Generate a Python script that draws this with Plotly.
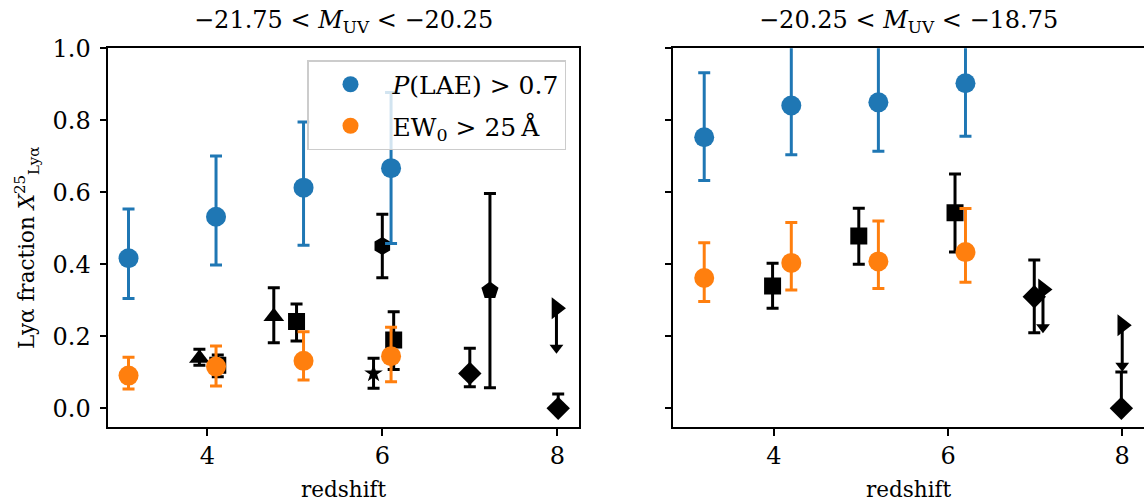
import plotly.graph_objects as go

# ---------------- data ----------------
# Left panel: -21.75 < M_UV < -20.25
blue_x_L = [3.1, 4.1, 5.1, 6.1]
blue_y_L = [0.417, 0.532, 0.613, 0.667]
blue_hi_L = [0.554, 0.701, 0.795, 0.877]
blue_lo_L = [0.305, 0.398, 0.453, 0.458]

orange_x_L = [3.1, 4.1, 5.1, 6.1]
orange_y_L = [0.091, 0.116, 0.132, 0.145]
orange_hi_L = [0.142, 0.173, 0.213, 0.225]
orange_lo_L = [0.054, 0.062, 0.079, 0.074]

# literature points (left)
tri_x_L = [3.91, 4.76]
tri_y_L = [0.139, 0.255]
tri_hi_L = [0.164, 0.335]
tri_lo_L = [0.120, 0.182]

sq_x_L = [4.12, 5.02, 6.13]
sq_y_L = [0.120, 0.241, 0.190]
sq_hi_L = [0.148, 0.290, 0.268]
sq_lo_L = [0.088, 0.187, 0.108]

hex_x_L = [6.0]
hex_y_L = [0.451]
hex_hi_L = [0.539]
hex_lo_L = [0.363]

star_x_L = [5.9]
star_y_L = [0.097]
star_hi_L = [0.139]
star_lo_L = [0.056]

dia_x_L = [7.0, 8.01]
dia_y_L = [0.097, 0.0]
dia_hi_L = [0.167, 0.040]
dia_lo_L = [0.060, 0.0]

pent_x_L = [7.23]
pent_y_L = [0.327]
pent_hi_L = [0.597]
pent_lo_L = [0.057]

ul_x_L = [7.99]
ul_y_L = [0.278]
ul_len_L = [0.11]

# Right panel: -20.25 < M_UV < -18.75
blue_x_R = [3.2, 4.2, 5.2, 6.2]
blue_y_R = [0.753, 0.841, 0.850, 0.903]
blue_hi_R = [0.932, 1.01, 1.02, 1.05]
blue_lo_R = [0.633, 0.704, 0.714, 0.756]

orange_x_R = [3.2, 4.2, 5.2, 6.2]
orange_y_R = [0.362, 0.404, 0.408, 0.434]
orange_hi_R = [0.460, 0.516, 0.520, 0.555]
orange_lo_R = [0.297, 0.329, 0.333, 0.350]

sq_x_R = [3.985, 4.975, 6.08]
sq_y_R = [0.340, 0.479, 0.543]
sq_hi_R = [0.403, 0.556, 0.651]
sq_lo_R = [0.278, 0.400, 0.434]

dia_x_R = [6.99, 7.99]
dia_y_R = [0.310, 0.0]
dia_hi_R = [0.412, 0.101]
dia_lo_R = [0.210, 0.0]

ul_x_R = [7.09, 8.0]
ul_y_R = [0.330, 0.231]
ul_len_R = [0.105, 0.113]

titles = ["\u221221.75 < <i>M</i><sub>UV</sub> < \u221220.25",
          "\u221220.25 < <i>M</i><sub>UV</sub> < \u221218.75"]
legend_names = ["<i>P</i>(LAE) > 0.7", "EW<sub>0</sub> > 25\u2009\u00c5"]
xlabel = "redshift"
ylabel = "Ly\u03b1 fraction <i>X</i><sup>25</sup><sub>Ly\u03b1</sub>"
yticks = [0.0, 0.2, 0.4, 0.6, 0.8, 1.0]
xticks = [4, 6, 8]

BLUE = "#1f77b4"
ORANGE = "#ff7f0e"
FONT = "DejaVu Serif"

fig = go.Figure()


def errpoints(x, y, hi, lo, color, symbol, size, xa, ya, name=None, show=False, group=None):
    fig.add_trace(go.Scatter(
        x=x, y=y, mode="markers", name=name or "", showlegend=show,
        legendgroup=group, xaxis=xa, yaxis=ya,
        marker=dict(color=color, symbol=symbol, size=size, line=dict(width=0)),
        error_y=dict(type="data", symmetric=False,
                     array=[h - v for h, v in zip(hi, y)],
                     arrayminus=[v - l for v, l in zip(y, lo)],
                     color=color, thickness=3, width=6),
    ))


def upperlim(x, y, ln, xa, ya):
    fig.add_trace(go.Scatter(
        x=x, y=y, mode="markers", showlegend=False, xaxis=xa, yaxis=ya,
        marker=dict(color="black", symbol="triangle-right", size=19, line=dict(width=0)),
        error_y=dict(type="data", symmetric=False, array=[0] * len(y),
                     arrayminus=ln, color="black", thickness=3, width=0),
    ))
    fig.add_trace(go.Scatter(
        x=x, y=[v - l for v, l in zip(y, ln)], mode="markers", showlegend=False,
        xaxis=xa, yaxis=ya,
        marker=dict(color="black", symbol="triangle-down", size=12, line=dict(width=0)),
    ))


# left panel
errpoints(tri_x_L, tri_y_L, tri_hi_L, tri_lo_L, "black", "triangle-up", 18, "x", "y")
errpoints(sq_x_L, sq_y_L, sq_hi_L, sq_lo_L, "black", "square", 17, "x", "y")
errpoints(hex_x_L, hex_y_L, hex_hi_L, hex_lo_L, "black", "hexagon", 18, "x", "y")
errpoints(star_x_L, star_y_L, star_hi_L, star_lo_L, "black", "star", 14, "x", "y")
errpoints(dia_x_L, dia_y_L, dia_hi_L, dia_lo_L, "black", "diamond", 18, "x", "y")
errpoints(pent_x_L, pent_y_L, pent_hi_L, pent_lo_L, "black", "pentagon", 18, "x", "y")
upperlim(ul_x_L, ul_y_L, ul_len_L, "x", "y")
errpoints(blue_x_L, blue_y_L, blue_hi_L, blue_lo_L, BLUE, "circle", 20, "x", "y",
          legend_names[0], True, "g1")
errpoints(orange_x_L, orange_y_L, orange_hi_L, orange_lo_L, ORANGE, "circle", 20, "x", "y",
          legend_names[1], True, "g2")

# right panel
errpoints(sq_x_R, sq_y_R, sq_hi_R, sq_lo_R, "black", "square", 17, "x2", "y2")
errpoints(dia_x_R, dia_y_R, dia_hi_R, dia_lo_R, "black", "diamond", 18, "x2", "y2")
upperlim(ul_x_R, ul_y_R, ul_len_R, "x2", "y2")
errpoints(blue_x_R, blue_y_R, blue_hi_R, blue_lo_R, BLUE, "circle", 20, "x2", "y2")
errpoints(orange_x_R, orange_y_R, orange_hi_R, orange_lo_R, ORANGE, "circle", 20, "x2", "y2")

W, H = 1144, 502
axis_common = dict(showline=True, linecolor="black", linewidth=1.6, mirror=True,
                   ticks="outside", ticklen=7, tickwidth=1.6, tickcolor="black",
                   showgrid=False, zeroline=False,
                   tickfont=dict(family=FONT, size=24, color="black"))

fig.update_layout(
    width=W, height=H,
    margin=dict(l=0, r=0, t=0, b=0, autoexpand=False),
    plot_bgcolor="white", paper_bgcolor="white",
    font=dict(family=FONT, color="black"),
    xaxis=dict(domain=[108.3 / W, 579.3 / W], range=[2.869, 8.251],
               tickvals=xticks, ticktext=[str(t) for t in xticks], **axis_common),
    xaxis2=dict(domain=[673.3 / W, 1.0], range=[2.845, 8.25],
                tickvals=xticks, ticktext=[str(t) for t in xticks], **axis_common),
    yaxis=dict(domain=[1 - 426.7 / H, 1 - 48.3 / H], range=[-0.051, 1.0],
               tickvals=yticks, ticktext=[f"{t:.1f}" for t in yticks],
               ticklabelstandoff=4, anchor="x", **axis_common),
    yaxis2=dict(domain=[1 - 426.7 / H, 1 - 48.3 / H], range=[-0.051, 1.0],
                tickvals=yticks, showticklabels=False, anchor="x2", **axis_common),
    legend=dict(x=566 / W, y=1 - 60 / H, xanchor="right", yanchor="top",
                bgcolor="rgba(255,255,255,0.8)", bordercolor="#cccccc", borderwidth=1.5,
                font=dict(family=FONT, size=25, color="black"), itemwidth=74,
                tracegroupgap=6),
    showlegend=True,
)

annotations = [
    dict(text=titles[0], x=(108.3 + 579.3) / 2 / W, y=1 - 22 / H, xref="paper", yref="paper",
         xanchor="center", yanchor="middle", showarrow=False,
         font=dict(family=FONT, size=24, color="black")),
    dict(text=titles[1], x=(673.3 + 1144.5) / 2 / W, y=1 - 22 / H, xref="paper", yref="paper",
         xanchor="center", yanchor="middle", showarrow=False,
         font=dict(family=FONT, size=24, color="black")),
    dict(text=xlabel, x=(108.3 + 579.3) / 2 / W, y=1 - 489 / H, xref="paper", yref="paper",
         xanchor="center", yanchor="middle", showarrow=False,
         font=dict(family=FONT, size=21.5, color="black")),
    dict(text=xlabel, x=(673.3 + 1144.5) / 2 / W, y=1 - 489 / H, xref="paper", yref="paper",
         xanchor="center", yanchor="middle", showarrow=False,
         font=dict(family=FONT, size=21.5, color="black")),
    dict(text=ylabel, x=27 / W, y=1 - 248 / H, xref="paper", yref="paper", textangle=-90,
         xanchor="center", yanchor="middle", showarrow=False,
         font=dict(family=FONT, size=21.5, color="black")),
]
fig.update_layout(annotations=annotations)

fig.write_html("out.html", config={"displayModeBar": False},
               post_script="document.body.style.margin='0';document.body.style.overflow='hidden';")
